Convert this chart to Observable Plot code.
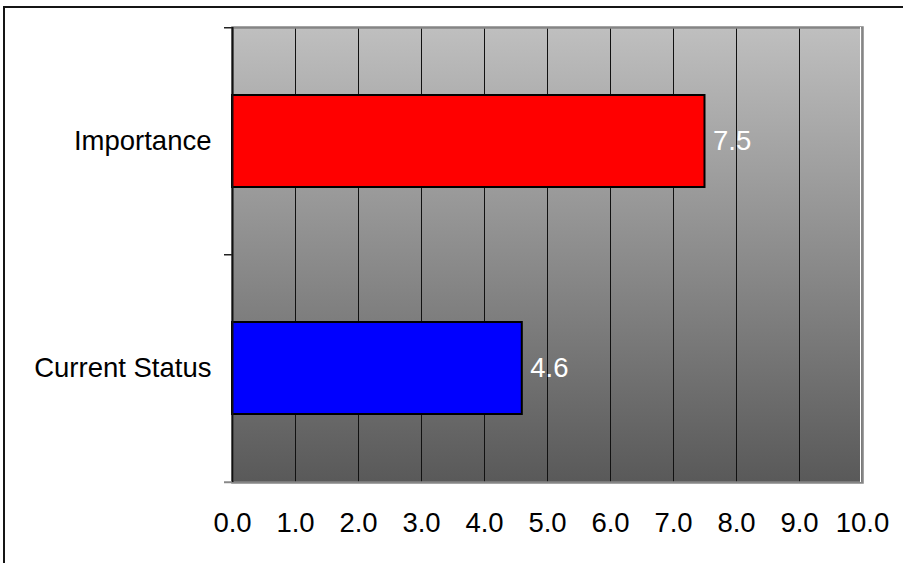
<!DOCTYPE html>
<html><head><meta charset="utf-8">
<script src="https://cdn.jsdelivr.net/npm/d3@7"></script>
<script src="https://cdn.jsdelivr.net/npm/@observablehq/plot@0.6"></script>
<style>
body{margin:0;background:#fff;}
#wrap{position:relative;width:903px;height:563px;overflow:hidden;}
#border{position:absolute;left:3px;top:6px;width:2000px;height:2000px;border-left:2px solid #151515;border-top:2px solid #151515;pointer-events:none;}
</style></head><body><div id="wrap"><div id="border"></div></div>
<script>
const categories = ["Importance", "Current Status"];
const values = [7.5, 4.6];
const barColors = ["#ff0000", "#0000ff"];
const valueLabels = ["7.5", "4.6"];
const xTicks = [0, 1, 2, 3, 4, 5, 6, 7, 8, 9, 10];

const data = categories.map((c, i) => ({category: c, value: values[i], color: barColors[i], label: valueLabels[i]}));

const W = 903, H = 563, mt = 27, mb = 81, ml = 232, mr = 41;
const pi = 0.596, po = 0.298;
const step = (H - mt - mb) / (categories.length - pi + 2 * po);
const font = "'Liberation Sans', Arial, sans-serif";
const fs = 27.5;

const plot = Plot.plot({
  width: W, height: H,
  marginLeft: ml, marginRight: mr, marginTop: mt, marginBottom: mb,
  style: {fontFamily: font, fontSize: fs + "px", color: "#000", background: "transparent", overflow: "visible"},
  x: {domain: [0, 10], label: null},
  y: {domain: categories, paddingInner: pi, paddingOuter: po, label: null},
  color: {type: "identity"},
  marks: [
    Plot.frame({fill: "url(#bg-grad)"}),
    Plot.ruleX(xTicks.slice(1, -1), {stroke: "#111", strokeWidth: 1}),
    Plot.frame({stroke: "#858585", strokeWidth: 2.5}),
    Plot.ruleX([10], {stroke: "#fff", strokeWidth: 1, dx: -2}),
    Plot.barX(data, {y: "category", x1: 0, x2: "value", fill: "color", stroke: "#000", strokeWidth: 2}),
    Plot.text(data, {y: "category", x: "value", text: "label", textAnchor: "start", dx: 8, fill: "#fff", fontSize: fs, fontFamily: font}),
    Plot.ruleX([0], {stroke: "#111", strokeWidth: 2}),
    Plot.ruleY(categories, {y: d => d, x1: 0, x2: 0, insetLeft: -8, dy: -step / 2, stroke: "#222", strokeWidth: 1.5}),
    Plot.ruleY(categories.slice(-1), {y: d => d, x1: 0, x2: 0, insetLeft: -8, dy: step / 2, stroke: "#888", strokeWidth: 2}),
    Plot.axisX({ticks: xTicks, tickFormat: d => d.toFixed(1), tickSize: 0, tickPadding: 30, label: null, fontSize: fs, fontFamily: font}),
    Plot.axisY({tickSize: 0, tickPadding: 21, label: null, fontSize: fs, fontFamily: font})
  ]
});

const defs = d3.select(plot).insert("defs", ":first-child");
const grad = defs.append("linearGradient").attr("id", "bg-grad").attr("x1", 0).attr("y1", 0).attr("x2", 0).attr("y2", 1);
grad.append("stop").attr("offset", "0%").attr("stop-color", "#bfbfbf");
grad.append("stop").attr("offset", "100%").attr("stop-color", "#595959");

document.getElementById("wrap").appendChild(plot);
</script>
</body></html>
